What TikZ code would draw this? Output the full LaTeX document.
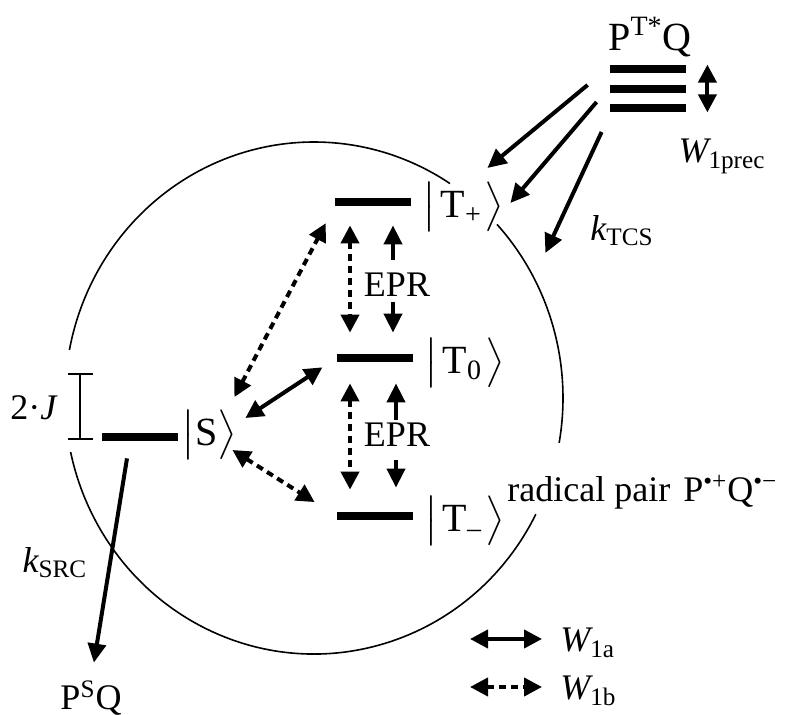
\documentclass[tikz,border=0pt]{standalone}
\usepackage{amsmath}
\usepackage{fontspec}
\setmainfont{Liberation Serif}
\usetikzlibrary{arrows.meta, calc}

\tikzset{
  level/.style={fill=black, minimum width=38pt, minimum height=4pt, inner sep=0pt},
  arr/.style={line width=2pt, -{Triangle[length=9.5pt, width=9pt]}},
  both/.style={line width=2pt, {Triangle[length=9pt, width=9pt]}-{Triangle[length=9pt, width=9pt]}},
  dsh/.style={dash pattern=on 3.5pt off 2.5pt},
  ring/.style={line width=0.8pt},
  lbl/.style={font=\fontsize{18}{21.6}\selectfont, inner sep=0pt},
  ket/.style={font=\fontsize{20}{24}\selectfont, inner sep=0pt, anchor=west},
}

\begin{document}
\begin{tikzpicture}[x=0.5pt, y=-0.5pt]
    \useasboundingbox (0,0) rectangle (809,715);

    % ring round the radical pair
    \draw[ring] ([shift={(-42.7:249 and 256)}]314,398) arc[start angle=-42.7, end angle=10.1, x radius=249, y radius=256];
    \draw[ring] ([shift={(27:249 and 256)}]314,398) arc[start angle=27, end angle=167.8, x radius=249, y radius=256];
    \draw[ring] ([shift={(190.8:249 and 256)}]314,398) arc[start angle=190.8, end angle=303.1, x radius=249, y radius=256];

    % precursor triplet
    \node[level] (PTa) at (648,69) {};
    \node[level] (PTb) at (648,89) {};
    \node[level] (PTc) at (648,108) {};
    \node[lbl, anchor=base, font=\fontsize{20}{24}\selectfont] (PT) at (650,51) {P\textsuperscript{T*}Q};
    \draw[both] ([xshift=10.5pt]PTa.north east) -- ([xshift=10.5pt]PTc.south east);
    \node[lbl, anchor=base] (Wp) at (722,163) {$\textit{W}_{\text{1prec}}$};

    % radical pair levels
    \node[level] (Tp) at (373,202) {};
    \node[level] (T0) at (375,358) {};
    \node[level] (Tm) at (375,516) {};
    \node[level] (S) at (140,437) {};
    \node[ket] (Tpk) at ([xshift=5.5pt, yshift=-2.5pt]Tp.east) {$\bigl|\hspace{2pt}\text{T}_{\text{+}}\hspace{1.5pt}\bigr\rangle$};
    \node[ket] (T0k) at ([xshift=5.5pt, yshift=-2.5pt]T0.east) {$\bigl|\hspace{2pt}\text{T}_{\text{0}}\hspace{1.5pt}\bigr\rangle$};
    \node[ket] (Tmk) at ([xshift=5.5pt, yshift=-2.5pt]Tm.east) {$\bigl|\hspace{2pt}\text{T}_{\text{--}}\hspace{1.5pt}\bigr\rangle$};
    \node[ket] (Sk) at ([xshift=1.5pt, yshift=1pt]S.east) {$\bigl|\text{S}\bigr\rangle$};

    \node[lbl, anchor=base west] (rp) at (507,502) {radical pair\hspace{0.36em}P\textsuperscript{•+}Q\textsuperscript{•−}};

    % EPR transitions
    \node[lbl] (EPRa) at (397,285) {EPR};
    \node[lbl] (EPRb) at (397,435) {EPR};
    \draw[both, dsh, shorten <=9.5pt, shorten >=10.5pt] ([xshift=-11.5pt]Tp.south) -- ([xshift=-12.5pt]T0.north);
    \draw[both, dsh, shorten <=10.5pt, shorten >=11pt] ([xshift=-12.5pt]T0.south) -- ([xshift=-12.5pt]Tm.north);
    \draw[arr, shorten >=9.5pt] ([xshift=-2pt, yshift=6.5pt]EPRa.north) -- ([xshift=-2pt]EPRa.north |- Tp.south);
    \draw[arr, shorten >=10.5pt] ([xshift=-2pt, yshift=-2.5pt]EPRa.south) -- ([xshift=-2pt]EPRa.south |- T0.north);
    \draw[arr, shorten >=10.5pt] ([xshift=-0.5pt, yshift=1.5pt]EPRb.north) -- ([xshift=-0.5pt]EPRb.north |- T0.south);
    \draw[arr, shorten >=12pt] ([xshift=-0.5pt, yshift=-6.5pt]EPRb.south) -- ([xshift=-0.5pt]EPRb.south |- Tm.north);

    % mixing of S with the triplets
    \draw[both, dsh, shorten >=9.5pt] ($(S.east)+(56,-40)$) -- (Tp.south west);
    \draw[both, shorten >=8.5pt] ($(S.east)+(67,-19)$) -- (T0.west);
    \draw[both, dsh, shorten >=13pt] ($(S.east)+(54,13)$) -- (Tm.west);

    % singlet splitting
    \node[lbl] (J) at (34,408) {2·\textit{J}};
    \draw[line width=1.2pt, {Bar[width=12.5pt]}-{Bar[width=12.5pt]}] (80,373) -- (80,440);

    % triplet and singlet recombination
    \draw[arr] ($(PTb.west)+(-22,-4)$) -- ($(Tp.east)+(76,-34)$);
    \draw[arr] ($(PTb.west)+(-13,13)$) -- ($(Tp.east)+(99,1)$);
    \draw[arr] ($(PTb.west)+(-8,43)$) -- ($(Tp.east)+(134,51)$);
    \node[lbl] (kT) at (622,231) {$\textit{k}_{\text{TCS}}$};

    \node[lbl, anchor=base] (PSQ) at (91,710) {P\textsuperscript{S}Q};
    \draw[arr, shorten >=9pt] ($(S.south)+(-13,17)$) -- (PSQ.north);
    \node[lbl] (kS) at (55,563) {$\textit{k}_{\text{SRC}}$};

    % legend
    \node[lbl, anchor=base west] (Wa) at (560,652) {$\textit{W}_{\text{1a}}$};
    \node[lbl, anchor=base west] (Wb) at (560,700) {$\textit{W}_{\text{1b}}$};
    \draw[both] ($(Wa.base west)+(-90,-13)$) -- ($(Wa.base west)+(-18,-13)$);
    \draw[both, dsh] ($(Wb.base west)+(-90,-13)$) -- ($(Wb.base west)+(-18,-13)$);
\end{tikzpicture}
\end{document}
